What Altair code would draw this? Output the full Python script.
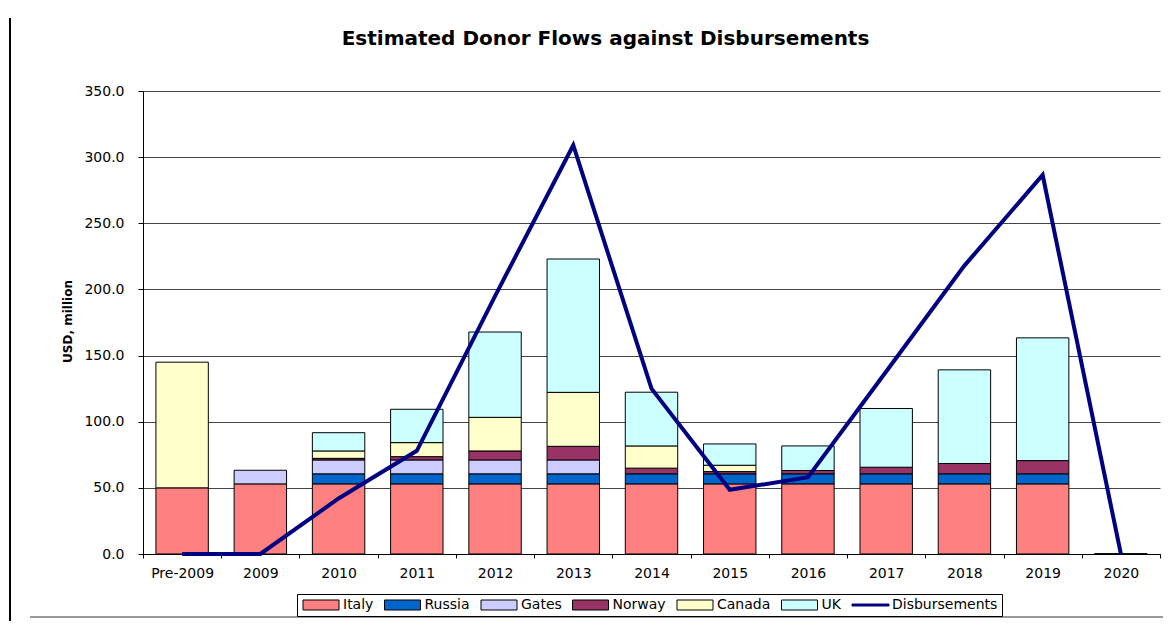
import altair as alt
import pandas as pd

FONT = "DejaVu Sans"

categories = ["Pre-2009", "2009", "2010", "2011", "2012", "2013", "2014",
              "2015", "2016", "2017", "2018", "2019", "2020"]
series_names = ["Italy", "Russia", "Gates", "Norway", "Canada", "UK"]
italy  = [50.0, 53.0, 53.0, 53.0, 53.0, 53.0, 53.0, 53.0, 53.0, 53.0, 53.0, 53.0, 0.0]
russia = [0.0, 0.0, 7.6, 7.6, 7.6, 7.6, 7.6, 7.6, 7.6, 7.6, 7.6, 7.6, 0.0]
gates  = [0.0, 10.3, 10.5, 10.5, 10.5, 10.5, 0.0, 0.0, 0.0, 0.0, 0.0, 0.0, 0.0]
norway = [0.0, 0.0, 1.2, 2.5, 6.8, 10.3, 4.3, 1.7, 2.5, 5.0, 7.8, 10.0, 0.0]
canada = [95.0, 0.0, 5.6, 10.6, 25.4, 40.8, 16.8, 4.8, 0.0, 0.0, 0.0, 0.0, 0.0]
uk     = [0.0, 0.0, 13.8, 25.2, 64.5, 100.8, 40.6, 16.1, 18.6, 44.4, 70.8, 92.8, 0.3]
disbursements = [0.0, 0.0, 42.0, 78.0, 195.0, 309.0, 125.0, 48.5, 58.0, 138.0, 218.0, 286.5, 0.0]

bar_colors = ["#FF8080", "#0066CC", "#CCCCFF", "#993366", "#FFFFCC", "#CCFFFF"]
line_color = "#000080"
legend_domain = series_names + ["Disbursements"]
legend_fill = bar_colors + [line_color]
legend_stroke = ["black"] * 6 + [line_color]
rect_path = "M-1,-1L6.2,-1L6.2,1L-1,1Z"
line_path = "M-1,-0.2L6.4,-0.2L6.4,0.2L-1,0.2Z"
legend_shapes = [rect_path] * 6 + [line_path]

rows = []
for s_idx, (name, vals) in enumerate(zip(series_names, [italy, russia, gates, norway, canada, uk])):
    for cat, v in zip(categories, vals):
        if v > 0:
            rows.append({"Category": cat, "Series": name, "Value": v, "Order": s_idx})
bars_df = pd.DataFrame(rows)
line_df = pd.DataFrame({"Category": categories, "Value": disbursements})
legend_df = pd.DataFrame({"Series": legend_domain})

x_enc = alt.X(
    "Category:N", sort=categories,
    scale=alt.Scale(paddingInner=0, paddingOuter=0),
    axis=alt.Axis(title=None, labelAngle=0, labelFont=FONT, labelFontSize=14,
                  labelColor="black", labelBaseline="alphabetic", labelPadding=19,
                  tickBand="extent", tickSize=4, tickColor="black",
                  domainColor="black", grid=False),
)
y_axis = alt.Axis(
    title="USD, million", titleFont=FONT, titleFontSize=12, titleFontWeight="bold",
    titleColor="black", titleAngle=270, titleX=-72, titleY=230,
    titleBaseline="alphabetic", titleAlign="center",
    values=[0, 50, 100, 150, 200, 250, 300, 350], format=".1f",
    labelFont=FONT, labelFontSize=14, labelColor="black", labelPadding=14,
    tickSize=5, tickColor="black", domainColor="black",
    grid=True, gridColor="#444444", gridWidth=1,
)
y_scale = alt.Scale(domain=[0, 350], nice=False)

fill_scale = alt.Scale(domain=legend_domain, range=legend_fill)

leg = alt.Legend(
    title=None, orient="none", legendX=154, legendY=503, direction="horizontal",
    symbolSize=100, symbolStrokeWidth=1, symbolOpacity=1,
    labelFont=FONT, labelFontSize=14, labelColor="black", labelOffset=28,
    columnPadding=8.5, padding=4, strokeColor="black", fillColor="white",
)

legend_layer = alt.Chart(legend_df).mark_point(
    filled=True, opacity=1, size=100, strokeWidth=1
).encode(
    fill=alt.Fill("Series:N", scale=fill_scale, legend=leg),
    stroke=alt.Stroke("Series:N", scale=alt.Scale(domain=legend_domain, range=legend_stroke), legend=leg),
    shape=alt.Shape("Series:N", scale=alt.Scale(domain=legend_domain, range=legend_shapes), legend=leg),
).transform_filter("false")

bars = alt.Chart(bars_df).mark_bar(
    width=alt.RelativeBandSize(0.67), stroke="black", strokeWidth=1
).encode(
    x=x_enc,
    y=alt.Y("Value:Q", stack="zero", scale=y_scale, axis=y_axis),
    fill=alt.Fill("Series:N", scale=fill_scale, legend=leg),
    order=alt.Order("Order:Q", sort="ascending"),
)

line = alt.Chart(line_df).mark_line(color=line_color, strokeWidth=4).encode(
    x=x_enc,
    y=alt.Y("Value:Q", scale=y_scale, axis=y_axis),
)

deco_df = pd.DataFrame({"k": [0]})
vline = alt.Chart(deco_df).mark_rule(color="black", strokeWidth=2).encode(
    x=alt.value(-133), y=alt.value(-73), y2=alt.value(540)
)
gline = alt.Chart(deco_df).mark_rule(color="#999999", strokeWidth=2).encode(
    x=alt.value(-113), x2=alt.value(1030), y=alt.value(526)
)

chart = alt.layer(legend_layer, bars, line, vline, gline).properties(
    width=1017, height=463,
    title=alt.TitleParams(
        text="Estimated Donor Flows against Disbursements", font=FONT, fontSize=20,
        fontWeight="bold", color="black", anchor="middle", frame="group",
        dx=-46, offset=0, dy=48, baseline="alphabetic",
    ),
    autosize=alt.AutoSizeParams(type="none"),
    padding={"left": 135, "top": 83, "right": 3, "bottom": 67},
).configure_view(stroke=None)

chart.save("out.html", embed_options={"renderer": "svg", "actions": False})
